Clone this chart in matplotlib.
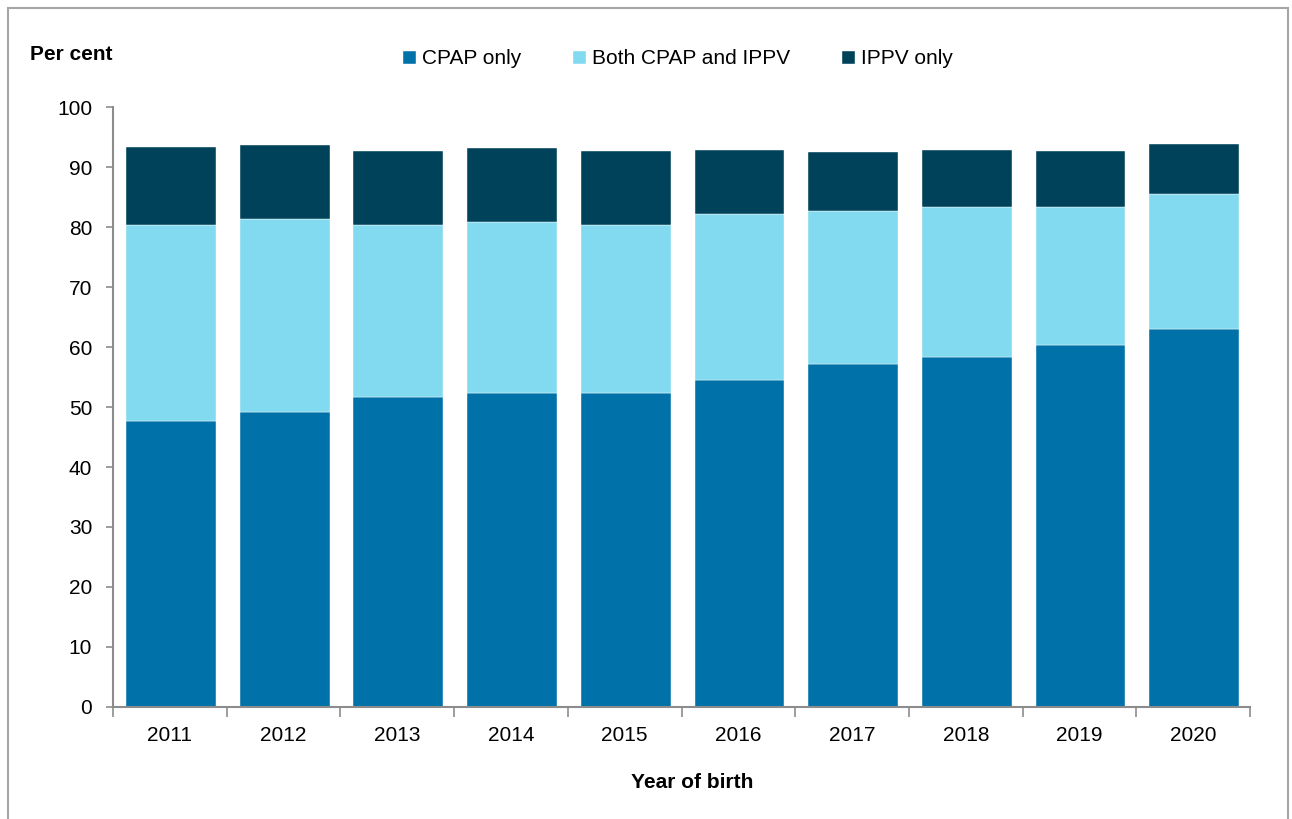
import numpy as np
import matplotlib.pyplot as plt
from matplotlib.patches import Rectangle

years = ['2011', '2012', '2013', '2014', '2015', '2016', '2017', '2018', '2019', '2020']
cpap_only = [47.7, 49.2, 51.7, 52.3, 52.4, 54.5, 57.2, 58.3, 60.3, 63.0]
both = [32.6, 32.1, 28.7, 28.5, 27.9, 27.6, 25.5, 25.1, 23.1, 22.5]
ippv_only = [13.0, 12.3, 12.3, 12.4, 12.4, 10.7, 9.8, 9.5, 9.3, 8.3]

series_names = ['CPAP only', 'Both CPAP and IPPV', 'IPPV only']
colors = ['#0072a9', '#81daef', '#00425a']

plt.rcParams['font.family'] = ['Liberation Sans', 'DejaVu Sans']


def main():
    fig = plt.figure(figsize=(12.92, 8.19), dpi=100)
    ax = fig.add_axes([113 / 1292, 1 - 707 / 819, 1137 / 1292, 600 / 819])

    x = np.arange(len(years))
    bottom = np.zeros(len(years))
    for name, vals, c in zip(series_names, [cpap_only, both, ippv_only], colors):
        ax.bar(x + 0.01, vals, width=0.79, bottom=bottom, color=c, label=name,
               edgecolor='white', linewidth=0.3)
        bottom += np.array(vals)

    ax.set_xlim(-0.5, len(years) - 0.5)
    ax.set_ylim(0, 100)
    ax.set_yticks(range(0, 101, 10))

    # category labels centred, ticks on the boundaries
    ax.set_xticks(x)
    ax.set_xticklabels(years)
    ax.set_xticks(np.arange(-0.5, len(years)), minor=True)
    ax.tick_params(axis='x', which='major', length=0, pad=14, labelsize=15)
    ax.tick_params(axis='x', which='minor', length=7, color='#8c8c8c', width=1.2)
    ax.tick_params(axis='y', length=5, color='#8c8c8c', width=1.2, labelsize=15, pad=10)

    for s in ['top', 'right']:
        ax.spines[s].set_visible(False)
    for s in ['left', 'bottom']:
        ax.spines[s].set_color('#8c8c8c')
        ax.spines[s].set_linewidth(1.5)

    fig.text(30 / 1292, 1 - 55 / 819, 'Per cent', fontsize=15, fontweight='bold',
             va='center', ha='left')
    fig.text(692 / 1292, 1 - 783 / 819, 'Year of birth', fontsize=15,
             fontweight='bold', va='center', ha='center')

    fig.legend(loc='center', bbox_to_anchor=(678 / 1292, 1 - 59 / 819), ncol=3,
               frameon=False, fontsize=15, handlelength=0.6, handleheight=0.6,
               handletextpad=0.3, columnspacing=2.5)

    # outer frame
    fig.patches.append(Rectangle((8 / 1292, -0.05), 1280 / 1292, 1.05 - 8 / 819,
                                 transform=fig.transFigure, fill=False,
                                 edgecolor='#a6a6a6', linewidth=1.5))

    fig.savefig('out.png', dpi=100)


if __name__ == '__main__':
    main()
